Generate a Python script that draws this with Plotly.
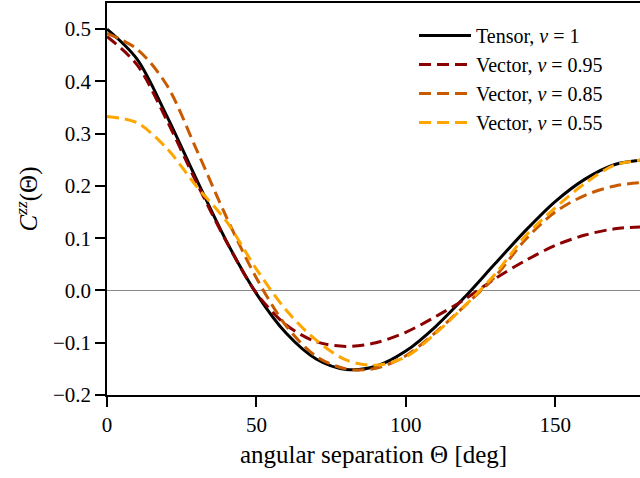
import plotly.graph_objects as go

theta = [0, 10, 20, 30, 40, 50, 60, 70, 80, 90, 100, 110, 120, 130, 140, 150, 160, 170, 180]

tensor_v1 = [0.500, 0.443, 0.334, 0.212, 0.094, -0.006, -0.082, -0.131, -0.151, -0.145,
             -0.116, -0.069, -0.011, 0.052, 0.114, 0.170, 0.213, 0.241, 0.250]
vector_v095 = [0.486, 0.432, 0.326, 0.206, 0.093, -0.005, -0.066, -0.098, -0.107, -0.100,
               -0.080, -0.050, -0.016, 0.023, 0.057, 0.086, 0.106, 0.118, 0.122]
vector_v085 = [0.492, 0.462, 0.393, 0.269, 0.140, 0.024, -0.068, -0.126, -0.150, -0.149,
               -0.125, -0.080, -0.028, 0.027, 0.097, 0.150, 0.182, 0.200, 0.207]
vector_v055 = [0.333, 0.321, 0.272, 0.199, 0.132, 0.041, -0.038, -0.095, -0.133, -0.143,
               -0.127, -0.082, -0.028, 0.032, 0.104, 0.158, 0.205, 0.240, 0.250]

labels = ["Tensor, <i>v</i> = 1", "Vector, <i>v</i> = 0.95",
          "Vector, <i>v</i> = 0.85", "Vector, <i>v</i> = 0.55"]
colors = ["#000000", "#8b0000", "#c85a00", "#ffa500"]
series = [tensor_v1, vector_v095, vector_v085, vector_v055]

FONT = "Liberation Serif"

fig = go.Figure()
for i, (ys, name, col) in enumerate(zip(series, labels, colors)):
    fig.add_trace(go.Scatter(
        x=theta, y=ys, mode="lines", name=name, hoverinfo="skip",
        line=dict(color=col, width=3, shape="spline", smoothing=0.9,
                  dash="solid" if i == 0 else "12px,6px"),
    ))

fig.update_layout(
    width=640, height=478,
    margin=dict(l=107, r=0, t=3, b=83),
    paper_bgcolor="white", plot_bgcolor="white",
    font=dict(family=FONT, size=21, color="black"),
    showlegend=True,
    legend=dict(x=0.576, y=0.967, xanchor="left", yanchor="top",
                bgcolor="rgba(0,0,0,0)", font=dict(family=FONT, size=20),
                itemwidth=52, tracegroupgap=0),
)
fig.update_xaxes(
    range=[0, 178.4], showgrid=False, zeroline=False, automargin=False,
    showline=True, linecolor="black", linewidth=1.5, mirror=True,
    ticks="outside", ticklen=10, tickwidth=1.5, tickcolor="black",
    tickvals=[0, 50, 100, 150], tickfont=dict(size=21),
    title=dict(text="angular separation Θ [deg]", font=dict(size=25), standoff=10),
)
fig.update_yaxes(
    range=[-0.2, 0.55], showgrid=False, automargin=False,
    zeroline=True, zerolinecolor="#888888", zerolinewidth=1.2,
    showline=True, linecolor="black", linewidth=1.5,
    ticks="outside", ticklen=10, tickwidth=1.5, tickcolor="black",
    tickvals=[-0.2, -0.1, 0.0, 0.1, 0.2, 0.3, 0.4, 0.5], tickformat=".1f",
    tickfont=dict(size=21),
    title=dict(text="<i>C</i><sup><i>zz</i></sup>(Θ)", font=dict(size=25), standoff=8),
)

fig.write_html("out.html", config={"displayModeBar": False},
               post_script="document.body.style.margin='0';")
